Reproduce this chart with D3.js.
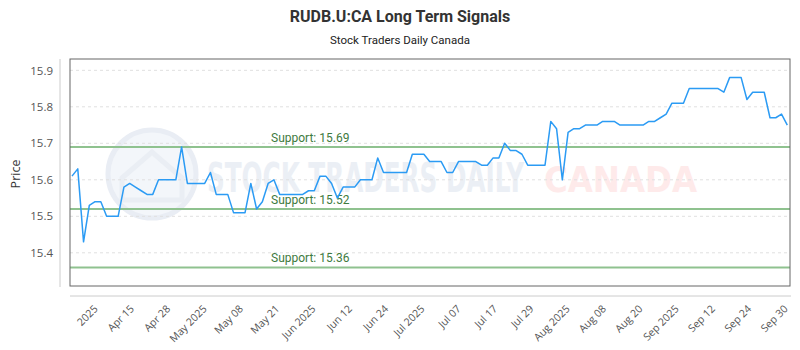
<!DOCTYPE html>
<html>
<head>
<meta charset="utf-8">
<script src="https://cdn.jsdelivr.net/npm/d3@7"></script>
<style>
  html, body { margin: 0; padding: 0; background: #fff; }
  svg { display: block; }
</style>
</head>
<body>
<svg id="chart" width="800" height="350"></svg>
<script>
// ---- data ----
const titleText = "RUDB.U:CA Long Term Signals";
const subtitleText = "Stock Traders Daily Canada";
const prices = [
  15.61, 15.63, 15.43, 15.53, 15.54, 15.54, 15.50, 15.50, 15.50, 15.58,
  15.59, 15.58, 15.57, 15.56, 15.56, 15.60, 15.60, 15.60, 15.60, 15.69,
  15.59, 15.59, 15.59, 15.59, 15.62, 15.56, 15.56, 15.56, 15.51, 15.51,
  15.51, 15.59, 15.52, 15.54, 15.59, 15.60, 15.56, 15.56, 15.56, 15.56,
  15.56, 15.57, 15.57, 15.61, 15.61, 15.59, 15.55, 15.58, 15.58, 15.58,
  15.60, 15.60, 15.60, 15.66, 15.62, 15.62, 15.62, 15.62, 15.62, 15.67,
  15.67, 15.67, 15.65, 15.65, 15.65, 15.62, 15.62, 15.65, 15.65, 15.65,
  15.65, 15.64, 15.64, 15.66, 15.66, 15.70, 15.68, 15.68, 15.67, 15.64,
  15.64, 15.64, 15.64, 15.76, 15.74, 15.60, 15.73, 15.74, 15.74, 15.75,
  15.75, 15.75, 15.76, 15.76, 15.76, 15.75, 15.75, 15.75, 15.75, 15.75,
  15.76, 15.76, 15.77, 15.78, 15.81, 15.81, 15.81, 15.85, 15.85, 15.85,
  15.85, 15.85, 15.85, 15.84, 15.88, 15.88, 15.88, 15.82, 15.84, 15.84,
  15.84, 15.77, 15.77, 15.78, 15.75
];
const supportLevels = [15.69, 15.52, 15.36];
const yTicks = [15.4, 15.5, 15.6, 15.7, 15.8, 15.9];
const xTickLabels = ["2025", "Apr 15", "Apr 28", "May 2025", "May 08", "May 21",
  "Jun 2025", "Jun 12", "Jun 24", "Jul 2025", "Jul 07", "Jul 17", "Jul 29",
  "Aug 2025", "Aug 08", "Aug 20", "Sep 2025", "Sep 12", "Sep 24", "Sep 30"];
const firstTickIndex = 4.4;   // position (in data points) of first x label

// ---- layout ----
const svg = d3.select("#chart");
const plot = { left: 70, right: 790, top: 59, bottom: 286 };

const x = d3.scaleLinear().domain([0, prices.length - 1]).range([72, 787.3]);
const y = d3.scaleLinear().domain([15.309, 15.931]).range([plot.bottom, plot.top]);

// title
svg.append("text").attr("x", 400).attr("y", 22).attr("text-anchor", "middle")
  .attr("font-family", "Roboto, sans-serif").attr("font-weight", "bold")
  .attr("font-size", 16).attr("fill", "#333").text(titleText);
svg.append("text").attr("x", 400).attr("y", 44).attr("text-anchor", "middle")
  .attr("font-family", "Roboto, sans-serif").attr("font-size", 11.5)
  .attr("fill", "#222").text(subtitleText);

// watermark
const wm = svg.append("g");
wm.append("circle").attr("cx", 152).attr("cy", 174).attr("r", 44)
  .attr("fill", "#f3f6fa").attr("stroke", "#e9edf4").attr("stroke-width", 5);
wm.append("path")
  .attr("d", "M122,200 L122,178 L152,152 L182,178 L182,200 Z")
  .attr("fill", "none").attr("stroke", "#eaeef4").attr("stroke-width", 5);
wm.append("text").attr("x", 207).attr("y", 192)
  .attr("font-family", "'DejaVu Sans Condensed', 'DejaVu Sans', sans-serif")
  .attr("font-stretch", "condensed").attr("font-weight", "bold")
  .attr("font-size", 40).attr("fill", "#ebeff5")
  .attr("textLength", 317).attr("lengthAdjust", "spacingAndGlyphs")
  .text("STOCK TRADERS DAILY");
wm.append("text").attr("x", 544).attr("y", 192)
  .attr("font-family", "'DejaVu Sans Condensed', 'DejaVu Sans', sans-serif")
  .attr("font-stretch", "condensed").attr("font-weight", "bold")
  .attr("font-size", 36).attr("fill", "#feeaea")
  .attr("textLength", 153).attr("lengthAdjust", "spacingAndGlyphs")
  .text("CANADA");

// gridlines
svg.append("g").selectAll("line").data(yTicks).join("line")
  .attr("x1", plot.left).attr("x2", plot.right)
  .attr("y1", d => y(d)).attr("y2", d => y(d))
  .attr("stroke", "#e0e0e0").attr("stroke-dasharray", "3,3");

// support lines
const sup = svg.append("g");
sup.selectAll("line").data(supportLevels).join("line")
  .attr("x1", plot.left).attr("x2", plot.right)
  .attr("y1", d => y(d)).attr("y2", d => y(d))
  .attr("stroke", "#8fc28f").attr("stroke-width", 2);
sup.selectAll("text").data(supportLevels).join("text")
  .attr("x", 271).attr("y", d => y(d) - 5)
  .attr("font-family", "Roboto, sans-serif").attr("font-size", 12)
  .attr("fill", "#3e7a3e").text(d => "Support: " + d.toFixed(2));

// price line
svg.append("path").datum(prices)
  .attr("d", d3.line().x((d, i) => x(i)).y(d => y(d)))
  .attr("fill", "none").attr("stroke", "#2b9bf4").attr("stroke-width", 1.5)
  .attr("stroke-linejoin", "round");

// plot border
svg.append("rect").attr("x", plot.left).attr("y", plot.top)
  .attr("width", plot.right - plot.left).attr("height", plot.bottom - plot.top)
  .attr("fill", "none").attr("stroke", "#666").attr("stroke-width", 1);

// y axis
const yAxis = svg.append("g").attr("transform", "translate(60,0)")
  .call(d3.axisLeft(y).tickValues(yTicks).tickFormat(d3.format(".1f")).tickSize(0).tickPadding(7));
yAxis.select(".domain").attr("stroke", "#ccc").attr("d", `M0,${plot.top}V${plot.bottom + 1}`);
yAxis.selectAll("text").attr("font-family", "'Open Sans', sans-serif").attr("font-size", 11.5).attr("fill", "#555");

svg.append("text").attr("transform", "translate(20,174) rotate(-90)")
  .attr("text-anchor", "middle").attr("font-family", "'Open Sans', sans-serif")
  .attr("font-size", 12.5).attr("fill", "#333").text("Price");

// x axis
const xTickScale = d3.scalePoint().domain(xTickLabels)
  .range([x(firstTickIndex), x(prices.length - 1)]);
const xAxis = svg.append("g").attr("transform", "translate(0,296)")
  .call(d3.axisBottom(xTickScale).tickSize(0));
xAxis.select(".domain").attr("stroke", "#ccc").attr("d", `M${plot.left},0H${plot.right + 1}`);
xAxis.selectAll("text")
  .attr("font-family", "'Open Sans', sans-serif").attr("font-size", 10.5).attr("fill", "#555")
  .attr("text-anchor", "end").attr("x", 0).attr("y", 0).attr("dy", "0.35em")
  .attr("transform", "translate(-2,11) rotate(-45)");
</script>
</body>
</html>
